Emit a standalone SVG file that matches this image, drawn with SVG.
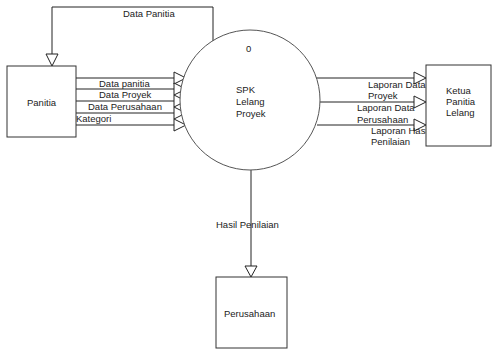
<svg xmlns="http://www.w3.org/2000/svg" width="493" height="349" viewBox="0 0 493 349">
  <style>
    .box { fill: #fff; stroke: #333; stroke-width: 1; }
    .proc { fill: #fff; stroke: #555; stroke-width: 1; }
    .flow { fill: none; stroke: #222; stroke-width: 1; }
    .head { fill: #fff; stroke: #222; stroke-width: 1; }
    text { font-family: "Liberation Sans", Arial, sans-serif; font-size: 9.5px; fill: #222; }
  </style>
  <rect width="493" height="349" fill="#fff"/>

  <g id="connectors">
    <!-- process to Panitia, looping over the top -->
    <polyline class="flow" points="213,41 213,7 52,7 52,54"/>
    <polygon class="head" points="46,54 58,54 52,66"/>
    <text x="123" y="17">Data Panitia</text>

    <!-- Panitia to process -->
    <line class="flow" x1="76" y1="78" x2="174" y2="78"/>
    <line class="flow" x1="76" y1="89" x2="174" y2="89"/>
    <line class="flow" x1="76" y1="101" x2="174" y2="101"/>
    <line class="flow" x1="76" y1="113" x2="174" y2="113"/>
    <line class="flow" x1="76" y1="125" x2="174" y2="125"/>
    <polygon class="head" points="174,72 174,84 186,78"/>
    <polygon class="head" points="174,83 174,95 186,89"/>
    <polygon class="head" points="174,95 174,107 186,101"/>
    <polygon class="head" points="174,107 174,119 186,113"/>
    <polygon class="head" points="174,119 174,131 186,125"/>
    <text x="99" y="87">Data panitia</text>
    <text x="99" y="98">Data Proyek</text>
    <text x="88" y="110">Data Perusahaan</text>
    <text x="76" y="122">Kategori</text>

    <!-- process to Ketua Panitia Lelang -->
    <line class="flow" x1="316" y1="78" x2="414" y2="78"/>
    <line class="flow" x1="320" y1="102" x2="414" y2="102"/>
    <line class="flow" x1="317" y1="125" x2="414" y2="125"/>
    <polygon class="head" points="414,72 414,84 426,78"/>
    <polygon class="head" points="414,96 414,108 426,102"/>
    <polygon class="head" points="414,119 414,131 426,125"/>
    <text x="368" y="88">Laporan Data</text>
    <text x="368" y="99">Proyek</text>
    <text x="357" y="111">Laporan Data</text>
    <text x="357" y="123">Perusahaan</text>
    <text x="371" y="134">Laporan Hasil</text>
    <text x="371" y="145">Penilaian</text>

    <!-- process to Perusahaan -->
    <line class="flow" x1="251" y1="170" x2="251" y2="266"/>
    <polygon class="head" points="245,266 257,266 251,277"/>
    <text x="216" y="228">Hasil Penilaian</text>
  </g>

  <g id="panitia">
    <rect class="box" x="7" y="66" width="69" height="71"/>
    <text x="27" y="106">Panitia</text>
  </g>

  <g id="spk-lelang-proyek">
    <circle class="proc" cx="250" cy="100" r="70"/>
    <text x="246" y="52">0</text>
    <text x="236" y="93">SPK</text>
    <text x="236" y="105">Lelang</text>
    <text x="236" y="117">Proyek</text>
  </g>

  <g id="ketua-panitia-lelang">
    <rect class="box" x="426" y="65" width="65" height="81"/>
    <text x="446" y="94">Ketua</text>
    <text x="446" y="105">Panitia</text>
    <text x="446" y="116">Lelang</text>
  </g>

  <g id="perusahaan">
    <rect class="box" x="216" y="277" width="71" height="71"/>
    <text x="224" y="317">Perusahaan</text>
  </g>
</svg>
